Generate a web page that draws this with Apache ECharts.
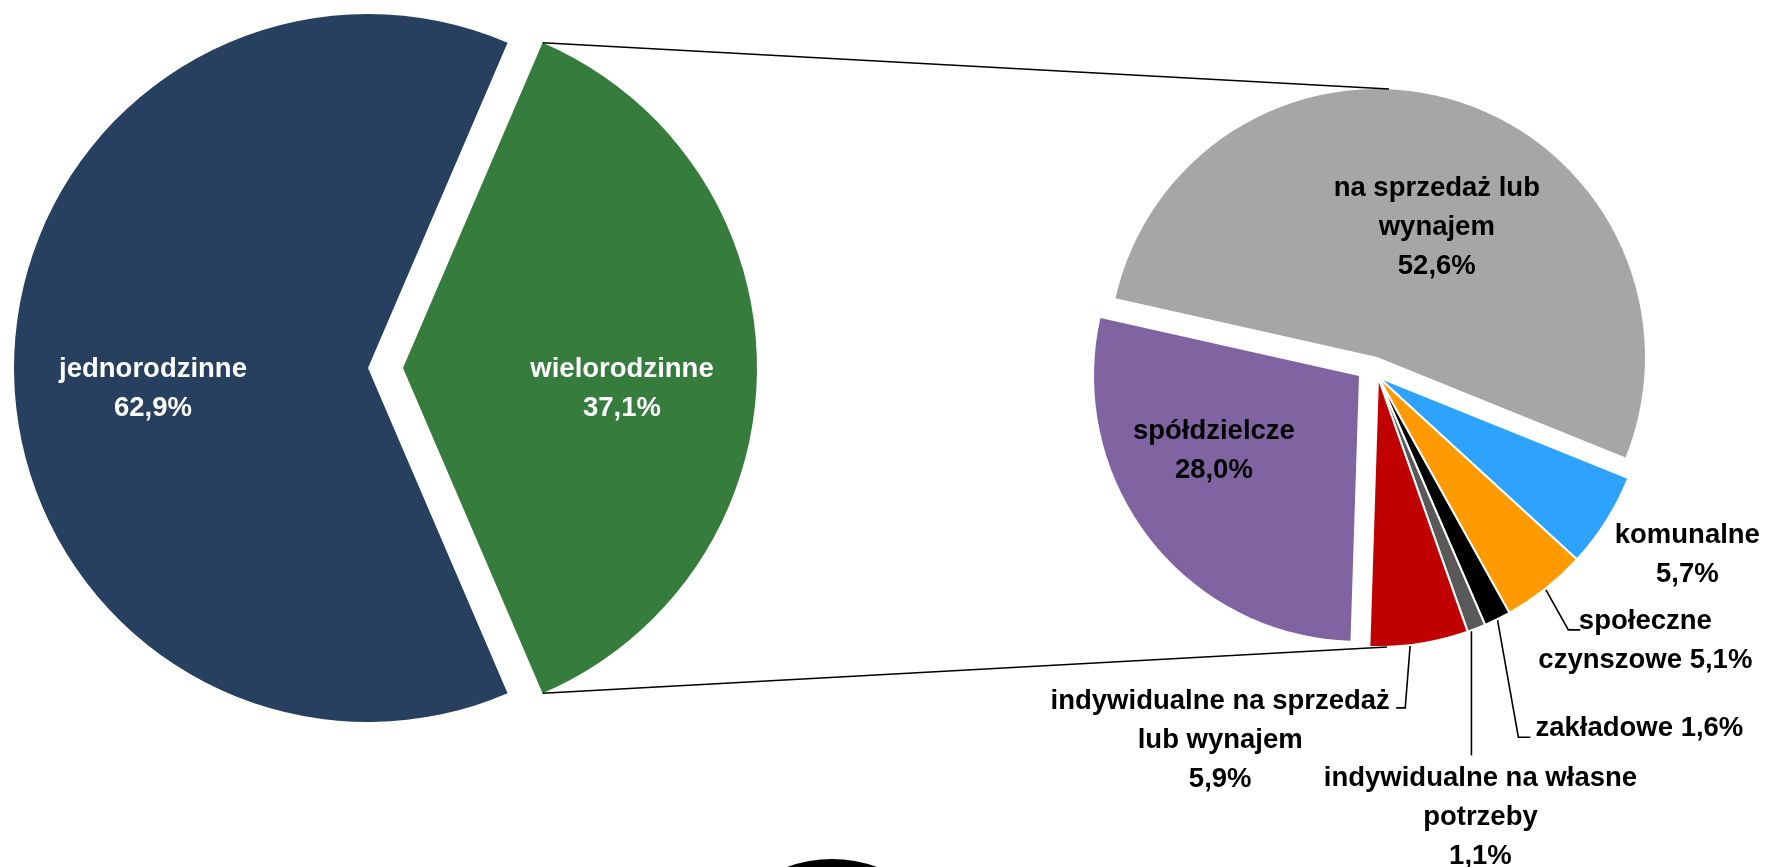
<!DOCTYPE html>
<html><head><meta charset="utf-8">
<script src="https://cdn.jsdelivr.net/npm/echarts@6/dist/echarts.min.js"></script>
<style>html,body{margin:0;padding:0;background:#fff}#c{width:1766px;height:867px}</style>
</head><body><div id="c"></div>
<script>
// ---- data ----
const mainCategories = ['wielorodzinne', 'jednorodzinne'];
const mainValues = [37.1, 62.9];
const mainColors = ['#367C3C', '#27405F'];

const subCategories = ['na sprzedaż lub wynajem', 'komunalne', 'społeczne czynszowe', 'zakładowe',
  'indywidualne na własne potrzeby', 'indywidualne na sprzedaż lub wynajem', 'spółdzielcze'];
const subValues = [52.6, 5.7, 5.1, 1.6, 1.1, 5.9, 28.0];
const subLabelText = ['na sprzedaż lub\nwynajem\n', 'komunalne\n', 'społeczne\nczynszowe ', 'zakładowe ',
  'indywidualne na własne\npotrzeby\n', 'indywidualne na sprzedaż\nlub wynajem\n', 'spółdzielcze\n'];
const subColors = ['#A6A6A6', '#2DA2FF', '#FF9B00', '#000000', '#595959', '#C00000', '#8064A2'];

// ---- layout ----
const LEFT = { navyC: [368, 368], greenC: [403, 368], r: 354 };
const RIGHT = { c: [1378, 377], r: 270, grayC: [1377, 357], grayR: 268, purpC: [1359, 376], purpR: 265, start: 167.36 };
const FONT = { fontFamily: '"Liberation Sans", Arial, sans-serif', fontWeight: 'bold', fontSize: 27.5, lineHeight: 39 };
const fmt = v => v.toFixed(1).replace('.', ',') + '%';
const CLEAR = 'rgba(0,0,0,0)';

const mainSum = mainValues.reduce((a, b) => a + b, 0);
const leftStart = mainValues[0] / mainSum * 180;

function leftSeries(center, vis, off) {
  return {
    type: 'pie', center: center, radius: [0, LEFT.r], startAngle: leftStart, clockwise: true,
    silent: true, animation: false, avoidLabelOverlap: false,
    data: mainCategories.map((n, i) => ({
      name: n, value: mainValues[i],
      itemStyle: { color: i === vis ? mainColors[i] : CLEAR },
      label: { show: i === vis }
    })),
    label: Object.assign({ position: 'inside', color: '#fff', formatter: p => p.name + '\n' + fmt(p.value) }, FONT),
    labelLine: { show: false },
    labelLayout: () => ({ dx: off[0], dy: off[1] })
  };
}

function singleRight(center, radius, vis, off) {
  return {
    type: 'pie', center: center, radius: [0, radius], startAngle: RIGHT.start, clockwise: true,
    silent: true, animation: false, avoidLabelOverlap: false,
    data: subCategories.map((n, i) => ({
      name: n, value: subValues[i],
      itemStyle: { color: i === vis ? subColors[i] : CLEAR, borderWidth: 0 },
      label: { show: i === vis }
    })),
    label: Object.assign({ position: 'inside', color: '#000', formatter: p => subLabelText[p.dataIndex] + fmt(p.value) }, FONT),
    labelLine: { show: false },
    labelLayout: () => ({ dx: off[0], dy: off[1] })
  };
}

// leader offsets relative to the slice's arc point
const subPlace = {
  1: { text: [81, 34], line: null },
  2: { text: [100, 52], line: [[0, 0], [23, 41], [35, 41]] },
  3: { text: [142, 109], line: [[0, 0], [21, 118], [33, 118]] },
  4: { text: [4, 189], line: [[-5, 0], [-5, 127]] },
  5: { text: [-199, 97], line: [[-9, 1], [-14, 64], [-23, 64]] }
};

const mainRight = {
  type: 'pie', center: RIGHT.c, radius: [0, RIGHT.r], startAngle: RIGHT.start, clockwise: true,
  silent: true, animation: false, avoidLabelOverlap: false,
  itemStyle: { borderColor: '#fff', borderWidth: 2 },
  data: subCategories.map((n, i) => {
    const hidden = (i === 0 || i === 6);
    return {
      name: n, value: subValues[i],
      itemStyle: hidden ? { color: CLEAR, borderWidth: 0 } : { color: subColors[i] },
      label: { show: !hidden },
      labelLine: { show: !hidden, lineStyle: { color: i === 1 ? CLEAR : '#000' } }
    };
  }),
  label: Object.assign({ position: 'outside', color: '#000', formatter: p => subLabelText[p.dataIndex] + fmt(p.value) }, FONT),
  labelLine: { show: true, length: 20, length2: 10, lineStyle: { color: '#000', width: 1.6 } },
  labelLayout: p => {
    const o = subPlace[p.dataIndex];
    if (!o || !p.labelLinePoints) return {};
    const s = p.labelLinePoints[0];
    const res = { x: s[0] + o.text[0], y: s[1] + o.text[1], align: 'center', verticalAlign: 'middle' };
    res.labelLinePoints = o.line ? o.line.map(q => [s[0] + q[0], s[1] + q[1]]) : [s, s];
    return res;
  }
};

// connector lines between the green slice edges and the second pie
const ang = leftStart * Math.PI / 180;
const gx = LEFT.greenC[0] + LEFT.r * Math.cos(ang);
const gyTop = LEFT.greenC[1] - LEFT.r * Math.sin(ang);
const gyBot = LEFT.greenC[1] + LEFT.r * Math.sin(ang);

const chart = echarts.init(document.getElementById('c'), null, { renderer: 'canvas' });
chart.setOption({
  backgroundColor: '#fff',
  animation: false,
  series: [
    leftSeries(LEFT.navyC, 1, [-35, 21]),
    leftSeries(LEFT.greenC, 0, [39, 21]),
    mainRight,
    singleRight(RIGHT.grayC, RIGHT.grayR, 0, [19, 1]),
    singleRight(RIGHT.purpC, RIGHT.purpR, 6, [-38, -8])
  ],
  graphic: [
    { type: 'line', z: 100, shape: { x1: gx, y1: gyTop, x2: RIGHT.grayC[0] + 12, y2: RIGHT.grayC[1] - RIGHT.grayR }, style: { stroke: '#000', lineWidth: 1.6 } },
    { type: 'line', z: 100, shape: { x1: gx, y1: gyBot, x2: RIGHT.c[0] + 9, y2: RIGHT.c[1] + RIGHT.r }, style: { stroke: '#000', lineWidth: 1.6 } },
    // partially visible round decoration at the bottom edge of the picture
    { type: 'circle', z: 100, shape: { cx: 832, cy: 989, r: 126 }, style: { fill: '#fff', stroke: '#000', lineWidth: 8 } }
  ]
});
</script>
</body></html>
